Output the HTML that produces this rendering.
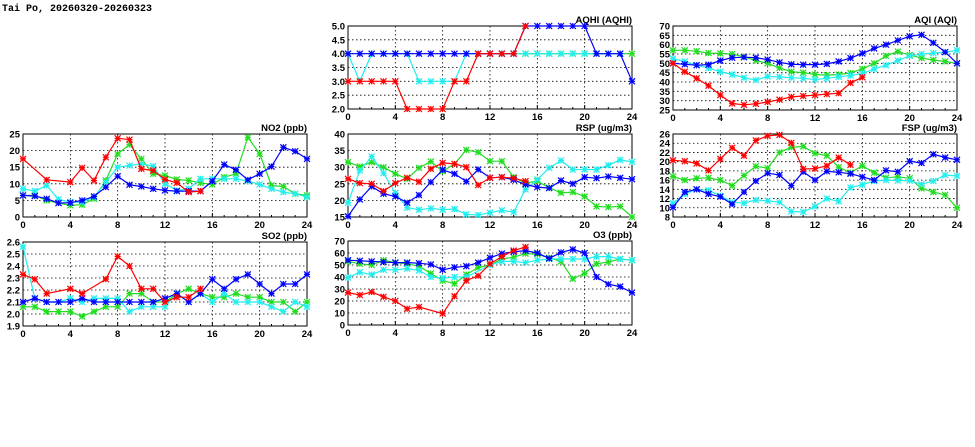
<!DOCTYPE html>
<html><head><meta charset="utf-8"><style>
html,body{margin:0;padding:0;background:#fff;}
svg{display:block;font-family:"Liberation Sans","DejaVu Sans",sans-serif;}
</style></head><body>
<svg id="chart" width="975" height="447" viewBox="0 0 975 447" xmlns="http://www.w3.org/2000/svg">
<rect width="975" height="447" fill="#fff"/>
<text x="2" y="11" font-size="10" font-weight="bold" fill="#000" font-family="Liberation Mono, monospace">Tai Po, 20260320-20260323</text>
</svg>
<script>
const hours = [0,1,2,3,4,5,6,7,8,9,10,11,12,13,14,15,16,17,18,19,20,21,22,23,24];
const xTicks = [0,4,8,12,16,20,24];
const seriesColors = ['#ff0000','#22dd22','#22eeee','#0000ff'];
const seriesNames = ['red','green','cyan','blue'];
const drawOrder = [1,2,3,0];
const N = null;

const aqhiRed   = [3,3,3,3,3,2,2,2,2,3,3,4,4,4,4,5,N,N,N,N,N,N,N,N,N];
const aqhiGreen = [N,N,N,N,N,N,N,N,N,N,N,4,4,4,4,4,4,4,4,4,4,4,4,4,4];
const aqhiCyan  = [4,3,4,4,4,4,3,3,3,3,4,4,4,4,4,4,4,4,4,4,4,4,4,4,N];
const aqhiBlue  = [4,4,4,4,4,4,4,4,4,4,4,4,4,4,4,5,5,5,5,5,5,4,4,4,3];
const aqhiTicks = [2,2.5,3,3.5,4,4.5,5];

const aqiRed   = [50,45.5,42,38,33,28.5,27.8,28.3,29.3,30.5,32,32.5,33,33.5,34,39.5,42.5,N,N,N,N,N,N,N,N];
const aqiGreen = [57,57,56.5,55.5,55.3,55,53.5,51.5,50,47.5,45.5,45,44,43.7,44,44.8,47,50,54,56.3,54.5,52.8,51.8,51,50];
const aqiCyan  = [52.5,51,49,47.5,45.5,44,42.3,41,43,42.7,42.3,42,41.3,42,42.8,43.5,44.5,47,49,51.5,54,55,55.5,56,57];
const aqiBlue  = [50,49.5,49,49.3,51.5,53,53.3,53,52,50.5,49.5,49.3,49.3,49.7,51,52.8,55.3,58,60,62.3,64.5,65.3,61,56,50];
const aqiTicks = [25,30,35,40,45,50,55,60,65,70];

const no2Red   = [17.5,N,11.2,N,10.5,14.8,11,18,23.7,23.3,14.5,14,11.3,10.3,7.5,7.8,N,N,N,N,N,N,N,N,N];
const no2Green = [6.5,6.5,5,4.2,3.5,3.7,5.5,11,19,21.8,17.5,13,12.5,11.3,11,10.3,9.8,12,13,24,19,9.5,9.2,7,6.5];
const no2Cyan  = [8.5,7.8,9.5,5.3,4.5,4.5,6,10.5,15,15.5,16,15.3,10,8,8.5,11.5,11.5,11.5,11.5,10.8,9.8,8.5,7.5,7,6];
const no2Blue  = [6.5,6.3,5.5,4.2,4.3,5,6.2,9,12.3,9.7,9.2,8.5,8,7.8,7.8,7.8,10.8,15.8,14.2,11.2,13,15.2,21,19.8,17.5];
const no2Ticks = [0,5,10,15,20,25];

const rspRed   = [26.5,25.2,25,22.8,25.2,26.8,25.6,29.5,31.3,31,30,24.6,26.8,27,26.7,25.8,N,N,N,N,N,N,N,N,N];
const rspGreen = [31.5,30.2,31.5,30,28,26.5,29.8,31.7,28.8,31,35.2,34.5,31.8,31.8,27,25.2,25.8,23.8,22.3,22.5,21.2,18.2,18,18.2,15];
const rspCyan  = [19.3,29,33.2,28.2,22.3,17.8,17.2,17.6,17.2,17.4,15.8,15.6,16.3,17,16.5,23.3,26.3,29.8,32,29.3,29.3,29.3,30.6,32.2,31.6];
const rspBlue  = [15.2,20.3,24.2,22,21.2,19.3,21.6,25.5,29.2,28,25.7,29.3,26.8,27,26.2,24.8,24,23.7,26,25,27,26.7,27.2,26.8,26.4];
const rspTicks = [15,20,25,30,35,40];

const fspRed   = [20.3,20.1,19.6,18.1,20.6,23,21.3,24.6,25.6,25.8,24.1,18.4,18.5,19.1,20.9,19.3,N,N,N,N,N,N,N,N,N];
const fspGreen = [16.8,16,16.4,16.5,16,14.8,17,19,18.6,22,23.1,23.3,21.8,21.3,18.8,17.6,19.1,17.6,16.5,16.7,16.4,14.2,13.4,12.8,10];
const fspCyan  = [11,13,14,13.8,12.6,11.2,11,11.7,11.5,11.2,9.2,9.1,10.3,12,11.4,14.4,15,15.8,16,15.9,15.9,15.1,15.8,17.1,16.9];
const fspBlue  = [10.1,13.4,14,13,12.4,10.8,13.4,15.8,17.5,17.1,14.8,17.8,16,17.9,17.7,17.4,16.7,16,18.1,17.8,20.1,19.7,21.6,20.9,20.4];
const fspTicks = [8,10,12,14,16,18,20,22,24,26];

const so2Red   = [2.33,2.29,2.17,N,2.21,2.17,N,2.29,2.48,2.40,2.21,2.21,2.10,2.14,2.14,2.21,N,N,N,N,N,N,N,N,N];
const so2Green = [2.06,2.06,2.02,2.02,2.02,1.98,2.02,2.06,2.06,2.17,2.17,2.10,2.10,2.17,2.21,2.17,2.14,2.14,2.17,2.14,2.14,2.10,2.10,2.02,2.10];
const so2Cyan  = [2.56,2.13,2.10,2.10,2.13,2.10,2.13,2.13,2.13,2.02,2.06,2.06,2.06,2.17,2.10,2.17,2.10,2.17,2.10,2.10,2.10,2.06,2.02,2.10,2.06];
const so2Blue  = [2.10,2.13,2.10,2.10,2.10,2.13,2.10,2.10,2.10,2.10,2.10,2.10,2.13,2.17,2.10,2.17,2.29,2.21,2.29,2.33,2.25,2.17,2.25,2.25,2.33];
const so2Ticks = [1.9,2.0,2.1,2.2,2.3,2.4,2.5,2.6];

const o3Red   = [27,25,27.5,23.5,20,13.5,15,N,9.5,24,37,41,51,57,62,65,N,N,N,N,N,N,N,N,N];
const o3Green = [53,51,50,54,52,51,49,43,37,34.5,42,48,50,55,56.5,59.5,59,56,53,38.5,43,51,52.5,55,54];
const o3Cyan  = [39.5,44,42,46,46,47,45.5,40,39,40,40,N,50,53,53,52,54,55,55,55,55,57,57,55,54];
const o3Blue  = [54,53.5,53,52.5,52,52,51.5,50.5,46,48,49,52,56,59.5,61,62,60,55.5,60.5,63,60,40,34,32,27];
const o3Ticks = [0,10,20,30,40,50,60,70];

const panels = [
 {name:'aqhi', title:'AQHI (AQHI)', x0:348, x1:632, y0:26, y1:109, ticks:aqhiTicks, dec:1, series:[aqhiRed,aqhiGreen,aqhiCyan,aqhiBlue]},
 {name:'aqi', title:'AQI (AQI)', x0:673, x1:957, y0:26, y1:110, ticks:aqiTicks, dec:0, series:[aqiRed,aqiGreen,aqiCyan,aqiBlue]},
 {name:'no2', title:'NO2 (ppb)', x0:23, x1:307, y0:134, y1:217, ticks:no2Ticks, dec:0, series:[no2Red,no2Green,no2Cyan,no2Blue]},
 {name:'rsp', title:'RSP (ug/m3)', x0:348, x1:632, y0:134, y1:217, ticks:rspTicks, dec:0, series:[rspRed,rspGreen,rspCyan,rspBlue]},
 {name:'fsp', title:'FSP (ug/m3)', x0:673, x1:957, y0:134, y1:217, ticks:fspTicks, dec:0, series:[fspRed,fspGreen,fspCyan,fspBlue]},
 {name:'so2', title:'SO2 (ppb)', x0:23, x1:307, y0:242, y1:326, ticks:so2Ticks, dec:1, series:[so2Red,so2Green,so2Cyan,so2Blue]},
 {name:'o3', title:'O3 (ppb)', x0:348, x1:632, y0:241, y1:325, ticks:o3Ticks, dec:0, series:[o3Red,o3Green,o3Cyan,o3Blue]}
];

const svg = document.getElementById('chart');
const NS = 'http://www.w3.org/2000/svg';
function mk(tag, attrs, parent){
  const e = document.createElementNS(NS, tag);
  for (const k in attrs) e.setAttribute(k, attrs[k]);
  parent.appendChild(e);
  return e;
}

panels.forEach(p => {
  const g = mk('g', {}, svg);
  
  
  const lo = p.ticks[0], hi = p.ticks[p.ticks.length-1];
  const xs = h => p.x0 + h / 24 * (p.x1 - p.x0);
  const ys = v => p.y1 - (v - lo) / (hi - lo) * (p.y1 - p.y0);
  p.ticks.forEach(t => {
    const y = ys(t);
    if (t !== lo && t !== hi) {
      const l = mk('line', {x1:p.x0, x2:p.x1, y1:y, y2:y, stroke:'#000', 'stroke-width':0.8, 'stroke-dasharray':'1.5,2.5'}, g);
      
      
    }
    const tl = mk('text', {x:p.x0-3, y:y+3.5, 'font-size':9.5, 'font-weight':'bold', 'text-anchor':'end', fill:'#000'}, g);
    tl.textContent = t.toFixed(p.dec);
    
    
  });
  xTicks.forEach(t => {
    const x = xs(t);
    if (t !== 0 && t !== 24) {
      const l = mk('line', {x1:x, x2:x, y1:p.y0, y2:p.y1, stroke:'#000', 'stroke-width':0.8, 'stroke-dasharray':'1.5,2.5'}, g);
      
      
    }
    const tl = mk('text', {x:x, y:p.y1+11, 'font-size':9.5, 'font-weight':'bold', 'text-anchor':'middle', fill:'#000'}, g);
    tl.textContent = String(t);
    
    
  });
  hours.forEach(h => {
    const x = xs(h);
    const len = h % 4 === 0 ? 4 : 2;
    mk('line', {x1:x, x2:x, y1:p.y1, y2:p.y1-len, stroke:'#000', 'stroke-width':1}, g);
  });
  const fr = mk('rect', {x:p.x0, y:p.y0, width:p.x1-p.x0, height:p.y1-p.y0, fill:'none', stroke:'#000', 'stroke-width':1}, g);
  
  
  const tt = mk('text', {x:p.x1, y:p.y0-3, 'font-size':9.5, 'font-weight':'bold', 'text-anchor':'end', fill:'#000'}, g);
  tt.textContent = p.title;
  
  
  drawOrder.forEach(si => {
    const vals = p.series[si];
    const col = seriesColors[si];
    const sg = mk('g', {}, g);
    
    
    const pts = [];
    vals.forEach((v, i) => { if (v !== null) pts.push([xs(hours[i]), ys(v)]); });
    if (pts.length > 1) {
      const pl = mk('polyline', {points: pts.map(q => q[0].toFixed(1)+','+q[1].toFixed(1)).join(' '), fill:'none', stroke:col, 'stroke-width':1.2}, sg);
      
      
    }
    pts.forEach(q => {
      const [x, y] = q, r = 3;
      const m = mk('path', {d:`M${x-r},${y}H${x+r}M${x},${y-r}V${y+r}M${x-r},${y-r}L${x+r},${y+r}M${x-r},${y+r}L${x+r},${y-r}`, stroke:col, 'stroke-width':1.2, fill:'none'}, sg);
      
      
    });
  });
});
</script>
</body></html>
